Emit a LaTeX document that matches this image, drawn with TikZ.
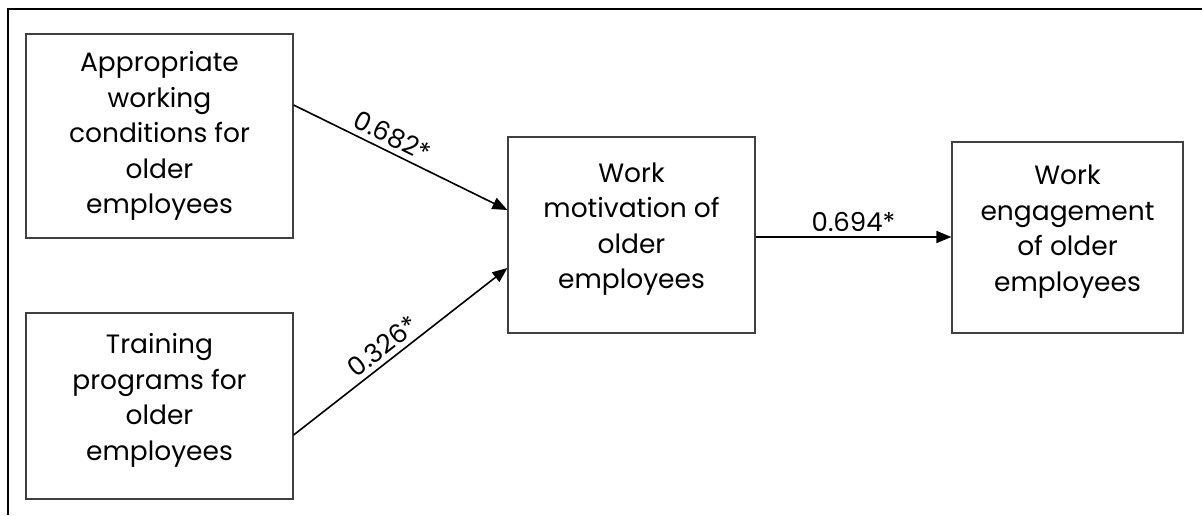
\documentclass[tikz,border=0pt]{standalone}
\usepackage{fontspec}
\setmainfont{Poppins}
\usetikzlibrary{arrows.meta}
\tikzset{
	varbox/.style={draw=black!75, line width=1.2pt, align=center, inner sep=0pt,
		font=\fontsize{26.5}{35.5}\selectfont},
	path/.style={-{Triangle[length=15pt,width=12pt]}, line width=1.6pt},
	coef/.style={font=\fontsize{26}{30}\selectfont, sloped, above, inner sep=5pt}
}
\newcommand{\lowpad}{\\[-17pt]\mbox{}}
\begin{document}
\begin{tikzpicture}[x=1pt, y=-1pt]
		\useasboundingbox (0,0) rectangle (1202,515);
		\draw[line width=1.6pt] (8,515)--(8,9)--(1202,9);
		\node[varbox, minimum width=267pt, minimum height=204pt] (cond) at (159.5,136) {Appropriate\\working\\conditions for\\older\\employees};
		\node[varbox, minimum width=267pt, minimum height=186pt] (train) at (159.5,406) {Training\\programs for\\older\\employees\lowpad};
		\node[varbox, minimum width=247pt, minimum height=196pt] (motiv) at (631.5,235) {Work\\motivation of\\older\\employees\lowpad};
		\node[varbox, minimum width=231pt, minimum height=191pt] (engag) at (1067.5,237.5) {Work\\engagement\\of older\\employees\lowpad};
		\draw[path] (cond.east |- 0,105) -- (motiv.west |- 0,210) node[coef, pos=0.43] (c1) {0.682*};
		\draw[path] (train.east |- 0,435) -- (motiv.west |- 0,268) node[coef, pos=0.46] (c2) {0.326*};
		\draw[path] (motiv.east |- 0,237) -- (engag.west |- 0,237) node[coef, midway] (c3) {0.694*};
	\end{tikzpicture}
\end{document}
